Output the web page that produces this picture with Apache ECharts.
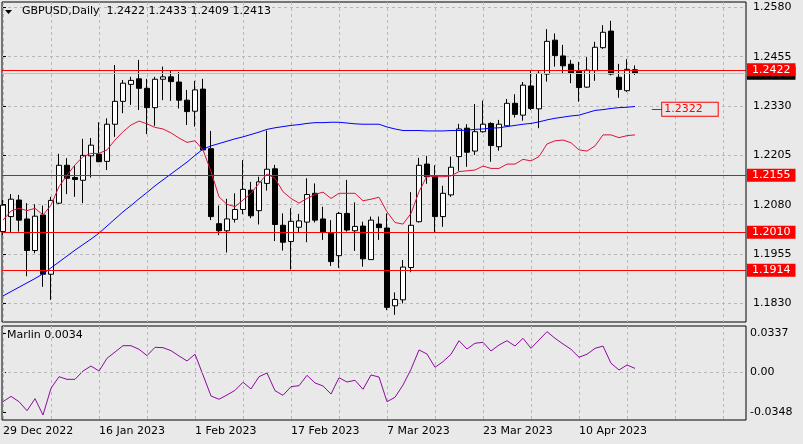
<!DOCTYPE html>
<html><head><meta charset="utf-8">
<script src="https://cdn.jsdelivr.net/npm/echarts@6/dist/echarts.min.js"></script>
<style>html,body{margin:0;padding:0;background:#e9e9e9}#c{width:803px;height:444px}</style>
</head><body><div id="c"></div>
<script>
const symbolName = 'GBPUSD';
const periodName = 'Daily';
const dates = [
 '29 Dec 2022','30 Dec 2022','2 Jan 2023','3 Jan 2023','4 Jan 2023','5 Jan 2023','6 Jan 2023','9 Jan 2023','10 Jan 2023','11 Jan 2023',
 '12 Jan 2023','13 Jan 2023','16 Jan 2023','17 Jan 2023','18 Jan 2023','19 Jan 2023','20 Jan 2023','23 Jan 2023','24 Jan 2023','25 Jan 2023',
 '26 Jan 2023','27 Jan 2023','30 Jan 2023','31 Jan 2023','1 Feb 2023','2 Feb 2023','3 Feb 2023','6 Feb 2023','7 Feb 2023','8 Feb 2023',
 '9 Feb 2023','10 Feb 2023','13 Feb 2023','14 Feb 2023','15 Feb 2023','16 Feb 2023','17 Feb 2023','20 Feb 2023','21 Feb 2023','22 Feb 2023',
 '23 Feb 2023','24 Feb 2023','27 Feb 2023','28 Feb 2023','1 Mar 2023','2 Mar 2023','3 Mar 2023','6 Mar 2023','7 Mar 2023','8 Mar 2023',
 '9 Mar 2023','10 Mar 2023','13 Mar 2023','14 Mar 2023','15 Mar 2023','16 Mar 2023','17 Mar 2023','20 Mar 2023','21 Mar 2023','22 Mar 2023',
 '23 Mar 2023','24 Mar 2023','27 Mar 2023','28 Mar 2023','29 Mar 2023','30 Mar 2023','31 Mar 2023','3 Apr 2023','4 Apr 2023','5 Apr 2023',
 '6 Apr 2023','7 Apr 2023','10 Apr 2023','11 Apr 2023','12 Apr 2023','13 Apr 2023','14 Apr 2023','17 Apr 2023','18 Apr 2023','19 Apr 2023'
];
const opens = [
 1.2012,1.2050,1.2092,1.2044,1.1964,1.2054,1.1904,1.2084,1.2180,1.2149,
 1.2142,1.2204,1.2208,1.2190,1.2284,1.2342,1.2385,1.2399,1.2375,1.2326,
 1.2398,1.2404,1.2391,1.2345,1.2317,1.2373,1.2222,1.2032,1.2014,1.2043,
 1.2068,1.2117,1.2065,1.2134,1.2171,1.2028,1.1987,1.2023,1.2036,1.2109,
 1.2044,1.2009,1.1951,1.2058,1.2014,1.2026,1.1941,1.2031,1.2021,1.1824,
 1.1839,1.1921,1.2037,1.2183,1.2153,1.2050,1.2105,1.2202,1.2274,1.2216,
 1.2265,1.2286,1.2227,1.2280,1.2337,1.2307,1.2381,1.2323,1.2411,1.2497,
 1.2457,1.2436,1.2420,1.2378,1.2420,1.2478,1.2520,1.2403,1.2369,1.2422
];
const highs = [
 1.2092,1.2107,1.2105,1.2084,1.2081,1.2078,1.2100,1.2209,1.2198,1.2178,
 1.2247,1.2249,1.2289,1.2299,1.2434,1.2396,1.2404,1.2447,1.2399,1.2404,
 1.2430,1.2419,1.2416,1.2371,1.2394,1.2399,1.2267,1.2078,1.2095,1.2109,
 1.2193,1.2138,1.2151,1.2268,1.2181,1.2058,1.2071,1.2057,1.2147,1.2134,
 1.2075,1.2041,1.2062,1.2143,1.2086,1.2037,1.2050,1.2050,1.2058,1.1858,
 1.1940,1.2112,1.2199,1.2204,1.2180,1.2128,1.2202,1.2285,1.2284,1.2335,
 1.2344,1.2289,1.2295,1.2348,1.2360,1.2391,1.2420,1.2420,1.2525,1.2514,
 1.2485,1.2447,1.2442,1.2454,1.2493,1.2535,1.2546,1.2437,1.2449,1.2433
];
const lows = [
 1.2003,1.2009,1.2012,1.1899,1.1957,1.1872,1.1839,1.2082,1.2107,1.2100,
 1.2084,1.2149,1.2188,1.2168,1.2252,1.2312,1.2333,1.2320,1.2259,1.2280,
 1.2345,1.2343,1.2324,1.2282,1.2278,1.2218,1.2041,1.2003,1.1959,1.2035,
 1.2056,1.2046,1.2030,1.2116,1.1988,1.1964,1.1916,1.2009,1.1985,1.2035,
 1.1991,1.1925,1.1920,1.2012,1.1963,1.1923,1.1940,1.1991,1.1813,1.1801,
 1.1830,1.1909,1.2035,1.2133,1.2010,1.2024,1.2100,1.2166,1.2176,1.2206,
 1.2263,1.2189,1.2217,1.2278,1.2301,1.2293,1.2320,1.2274,1.2392,1.2430,
 1.2411,1.2388,1.2341,1.2376,1.2394,1.2475,1.2408,1.2351,1.2366,1.2409
];
const closes = [
 1.2079,1.2094,1.2041,1.1964,1.2051,1.1904,1.2091,1.2180,1.2147,1.2144,
 1.2205,1.2231,1.2189,1.2284,1.2342,1.2388,1.2395,1.2375,1.2326,1.2398,
 1.2404,1.2392,1.2345,1.2316,1.2371,1.2219,1.2050,1.2014,1.2044,1.2068,
 1.2119,1.2052,1.2138,1.2170,1.2030,1.1985,1.2038,1.2039,1.2106,1.2041,
 1.2011,1.1936,1.2058,1.2016,1.2025,1.1943,1.2041,1.2022,1.1820,1.1840,
 1.1922,1.2028,1.2180,1.2151,1.2050,1.2109,1.2175,1.2272,1.2213,1.2265,
 1.2284,1.2230,1.2284,1.2337,1.2309,1.2383,1.2324,1.2413,1.2494,1.2458,
 1.2432,1.2413,1.2377,1.2421,1.2479,1.2517,1.2411,1.2372,1.2423,1.2413
];
const maSlow = [
 1.1849,1.1860,1.1871,1.1882,1.1893,1.1905,1.1920,1.1935,1.1950,1.1965,
 1.1979,1.1993,1.2008,1.2026,1.2044,1.2062,1.2078,1.2095,1.2111,1.2128,
 1.2143,1.2158,1.2173,1.2188,1.2205,1.2221,1.2229,1.2235,1.2241,1.2247,
 1.2252,1.2258,1.2264,1.2271,1.2275,1.2278,1.2281,1.2283,1.2286,1.2288,
 1.2288,1.2289,1.2289,1.2287,1.2285,1.2284,1.2284,1.2284,1.2277,1.2272,
 1.2268,1.2268,1.2268,1.2267,1.2267,1.2267,1.2268,1.2268,1.2269,1.2271,
 1.2272,1.2274,1.2275,1.2278,1.2281,1.2284,1.2286,1.2290,1.2295,1.2299,
 1.2302,1.2305,1.2307,1.2313,1.2319,1.2321,1.2324,1.2326,1.2327,1.2329
];
const maFast = [
 1.2041,1.2064,1.2071,1.2065,1.2071,1.2054,1.2079,1.2126,1.2155,1.2181,
 1.2202,1.2210,1.2210,1.2219,1.2244,1.2265,1.2282,1.2292,1.2285,1.2276,
 1.2272,1.2262,1.2249,1.2238,1.2242,1.2219,1.2164,1.2100,1.2081,1.2075,
 1.2092,1.2109,1.2134,1.2158,1.2147,1.2113,1.2096,1.2084,1.2096,1.2106,
 1.2112,1.2096,1.2109,1.2109,1.2109,1.2090,1.2094,1.2099,1.2062,1.2035,
 1.2031,1.2058,1.2113,1.2153,1.2151,1.2151,1.2153,1.2164,1.2166,1.2168,
 1.2178,1.2172,1.2172,1.2183,1.2183,1.2195,1.2191,1.2202,1.2234,1.2242,
 1.2244,1.2237,1.2219,1.2216,1.2229,1.2257,1.2257,1.2250,1.2255,1.2257
];
const marlin = [
 -0.0254,-0.0208,-0.0254,-0.0332,-0.0228,-0.0369,-0.0138,-0.0038,-0.0061,-0.0061,
 0.0011,0.0054,0.0011,0.0121,0.0175,0.0230,0.0230,0.0199,0.0144,0.0216,
 0.0213,0.0187,0.0141,0.0098,0.0156,-0.0023,-0.0205,-0.0233,-0.0196,-0.0156,
 -0.0086,-0.0144,-0.0038,-0.0006,-0.0159,-0.0199,-0.0124,-0.0116,-0.0026,-0.0092,
 -0.0118,-0.0188,-0.0047,-0.0084,-0.0069,-0.0147,-0.0023,-0.0041,-0.0254,-0.0216,
 -0.0110,0.0026,0.0193,0.0158,0.0043,0.0092,0.0156,0.0273,0.0201,0.0251,
 0.0259,0.0184,0.0236,0.0273,0.0227,0.0294,0.0207,0.0279,0.0351,0.0294,
 0.0245,0.0199,0.0130,0.0156,0.0207,0.0227,0.0078,0.0020,0.0063,0.0034
];
const levels = [1.2422, 1.2155, 1.2010, 1.1914];
const bidPrice = 1.2413;
const maLabelPrice = 1.2322;
const priceTicks = [1.1830, 1.1955, 1.2080, 1.2205, 1.2330, 1.2455, 1.2580];
const marlinTicks = [-0.0348, 0, 0.0337];
const dateLabelIdx = [0, 12, 24, 36, 48, 60, 72];
const gridIdx = [0, 6, 12, 18, 24, 30, 36, 42, 48, 54, 60, 66, 72, 78, 84, 90];

const FONT = 'DejaVu Sans';
const BG = '#e9e9e9';
const X_MIN = -0.125, X_MAX = 92.875;
const GRIDLINE = {show: true, lineStyle: {color: '#b8b8b8', type: [3, 3], width: 1}};
const n = closes.length;
const candleData = closes.map((c, i) => [i, opens[i], c, lows[i], highs[i]]);
const pair = arr => arr.map((v, i) => [i, v]);
const last = n - 1;
const hLine = v => [{coord: [X_MIN, v], name: v.toFixed(4)}, {coord: [X_MAX, v]}];
const boxLabel = (bg) => ({show: true, position: 'end', distance: 1, color: '#ffffff', backgroundColor: bg,
  padding: [1, 5, 0, 5], lineHeight: 12, fontSize: 11, fontFamily: FONT, formatter: '{b}'});

const chart = echarts.init(document.getElementById('c'), null, {renderer: 'canvas'});
chart.setOption({
  animation: false,
  backgroundColor: BG,
  textStyle: {fontFamily: FONT},
  grid: [
    {left: 2, top: 2, width: 744, height: 320, show: true, borderColor: '#000', borderWidth: 1, backgroundColor: 'transparent'},
    {left: 2, top: 326, width: 744, height: 94, show: true, borderColor: '#000', borderWidth: 1, backgroundColor: 'transparent'}
  ],
  xAxis: [
    {type: 'value', gridIndex: 0, min: X_MIN, max: X_MAX, axisLine: {show: false},
     axisTick: {show: false, customValues: gridIdx}, axisLabel: {show: false}, splitLine: GRIDLINE},
    {type: 'value', gridIndex: 1, min: X_MIN, max: X_MAX, axisLine: {show: false},
     axisTick: {show: false, customValues: gridIdx}, splitLine: GRIDLINE,
     axisLabel: {show: true, customValues: dateLabelIdx, formatter: v => dates[Math.round(v)] || '',
       align: 'left', margin: 6, color: '#000', fontSize: 11, fontFamily: FONT}}
  ],
  yAxis: [
    {type: 'value', gridIndex: 0, position: 'right', min: 1.17829, max: 1.25937, scale: true,
     axisLine: {show: false},
     axisTick: {show: true, length: 3, customValues: priceTicks, lineStyle: {color: '#000'}},
     axisLabel: {customValues: priceTicks, formatter: v => v.toFixed(4), margin: 7, color: '#000', fontSize: 11, fontFamily: FONT},
     splitLine: GRIDLINE},
    {type: 'value', gridIndex: 1, position: 'right', min: -0.04123, max: 0.04001,
     axisLine: {show: false},
     axisTick: {show: true, length: 3, customValues: marlinTicks, lineStyle: {color: '#000'}},
     axisLabel: {customValues: marlinTicks, formatter: v => (Math.abs(v) < 1e-9 ? '0.00' : v.toFixed(4)), margin: 4, color: '#000', fontSize: 11, fontFamily: FONT},
     splitLine: {show: false}}
  ],
  graphic: [
    {type: 'polygon', shape: {points: [[5, 10], [12, 10], [8.5, 14]]}, style: {fill: '#000'}, z: 100},
    {type: 'text', left: 22, top: 6, z: 100,
     style: {text: symbolName + ',' + periodName + '  ' + [opens[last], highs[last], lows[last], closes[last]].map(v => v.toFixed(4)).join(' '),
       fill: '#000', font: '11px "DejaVu Sans"'}},
    {type: 'text', left: 7, top: 330, z: 100,
     style: {text: 'Marlin ' + marlin[last].toFixed(4), fill: '#000', font: '11px "DejaVu Sans"'}}
  ],
  series: [
    {type: 'candlestick', xAxisIndex: 0, yAxisIndex: 0, data: candleData,
     encode: {x: 0, y: [1, 2, 3, 4]}, barWidth: 5, z: 3,
     itemStyle: {color: '#ffffff', color0: '#000000', borderColor: '#000000', borderColor0: '#000000', borderWidth: 1}},
    {type: 'line', xAxisIndex: 0, yAxisIndex: 0, data: pair(maSlow), showSymbol: false, symbol: 'none', z: 4,
     lineStyle: {color: '#0000ff', width: 1}},
    {type: 'line', xAxisIndex: 0, yAxisIndex: 0, data: pair(maFast), showSymbol: false, symbol: 'none', z: 4,
     lineStyle: {color: '#dc143c', width: 1}},
    {type: 'line', xAxisIndex: 0, yAxisIndex: 0, data: [], z: 5,
     markLine: {silent: true, symbol: 'none', animation: false,
       lineStyle: {color: '#c0c0c0', width: 1, type: 'solid'},
       label: boxLabel('#000000'),
       data: [hLine(bidPrice)]}},
    {type: 'line', xAxisIndex: 0, yAxisIndex: 0, data: [], z: 6,
     markLine: {silent: true, symbol: 'none', animation: false,
       lineStyle: {color: '#ff0000', width: 1, type: 'solid'},
       label: boxLabel('#ff0000'),
       data: levels.map(hLine)}},
    {type: 'line', xAxisIndex: 0, yAxisIndex: 0, data: [], z: 6,
     markLine: {silent: true, symbol: 'none', animation: false,
       lineStyle: {color: '#ff0000', width: 1, type: 'solid'},
       label: {show: true, position: 'end', distance: 0, color: '#ff0000', backgroundColor: BG,
         borderColor: '#ff0000', borderWidth: 1, padding: [1, 15, 0, 2], lineHeight: 12, fontSize: 11, fontFamily: FONT,
         formatter: '{b}'},
       data: [[{coord: [81.1, maLabelPrice], name: maLabelPrice.toFixed(4)}, {coord: [82.4, maLabelPrice]}]]}},
    {type: 'line', xAxisIndex: 1, yAxisIndex: 1, data: pair(marlin), showSymbol: false, symbol: 'none', z: 4,
     lineStyle: {color: '#8e0a9e', width: 1},
     markLine: {silent: true, symbol: 'none', animation: false, label: {show: false},
       lineStyle: {color: '#b8b8b8', type: [3, 3], width: 1}, data: [{yAxis: 0}]}}
  ]
});
</script></body></html>
